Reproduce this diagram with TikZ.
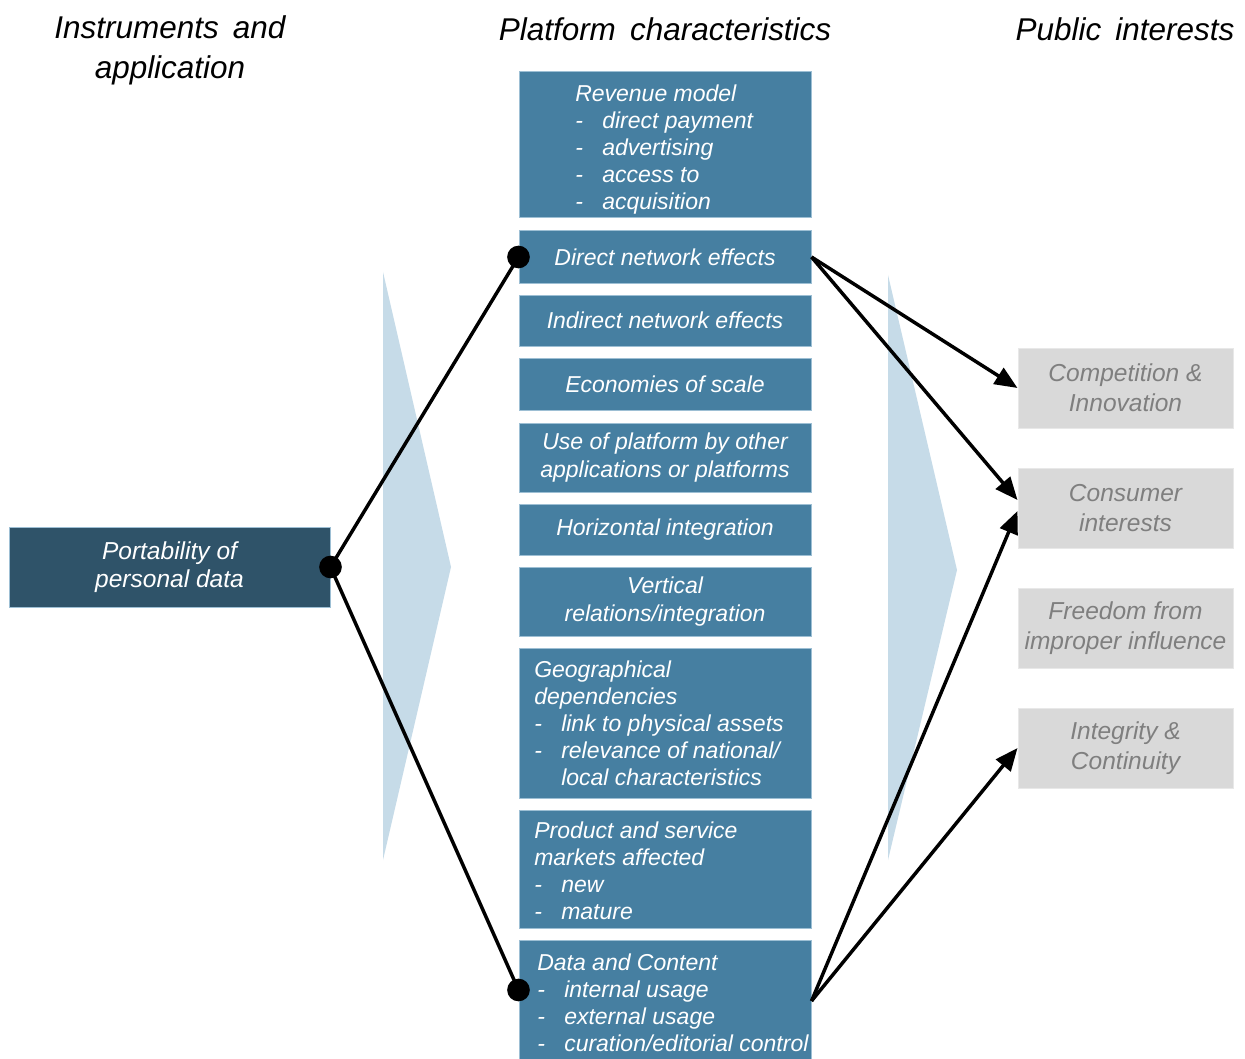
\documentclass[tikz,border=0pt]{standalone}
\usepackage{fontspec}
\setmainfont{Liberation Sans}
\usetikzlibrary{arrows.meta,calc}
\definecolor{midblue}{HTML}{467FA1}
\definecolor{midedge}{HTML}{9DBFD4}
\definecolor{darkblue}{HTML}{2F5369}
\definecolor{greybox}{HTML}{D9D9D9}
\definecolor{greyedge}{HTML}{E8E8E8}
\definecolor{greytext}{HTML}{7F7F7F}
\definecolor{chevcol}{HTML}{C6DBE8}
\newcommand{\dsh}{\makebox[20.25pt][l]{-}}
\newcommand{\ind}{\hspace*{20.25pt}}
\begin{document}
\begin{tikzpicture}[x=0.75pt,y=-0.75pt,
  hdr/.style={font=\fontsize{23.6}{30}\selectfont\itshape, align=center, inner sep=0},
  midbox/.style={fill=midblue, draw=midedge, line width=0.75pt, minimum width=219pt,
    inner sep=0, text=white, font=\fontsize{17.25}{20.6}\selectfont\itshape, align=center},
  midtxt/.style={text=white, font=\fontsize{17.25}{20.25}\selectfont\itshape,
    align=left, inner sep=0, anchor=west},
  pubbox/.style={fill=greybox, draw=greyedge, line width=0.75pt, minimum width=161.25pt,
    minimum height=60pt, inner sep=0, text=greytext,
    font=\fontsize{18.4}{22.5}\selectfont\itshape, align=center},
  instbox/.style={fill=darkblue, draw=midedge, line width=0.75pt, minimum width=240.75pt,
    minimum height=60pt, inner sep=0, text=white,
    font=\fontsize{18.4}{21}\selectfont\itshape, align=center},
  conn/.style={line width=2.6pt},
  arr/.style={line width=2.6pt, -{Triangle[length=17pt,width=14pt]}},
  dotnode/.style={circle, fill=black, minimum size=17pt, inner sep=0}]
\clip (0,0) rectangle (1245,1059);
\fill[white] (0,0) rectangle (1245,1059);

% headers
\node[hdr] (h1) at (170,50) {Instruments\hspace{0.45em}and\\application};
\node[hdr] (h2) at (665,29) {Platform\hspace{0.45em}characteristics};
\node[hdr] (h3) at (1125,29) {Public\hspace{0.45em}interests};

% chevrons
\fill[chevcol] (383,272) -- (451,567) -- (383,860) -- cycle;
\fill[chevcol] (888,275) -- (957,570) -- (888,860) -- cycle;

% middle column
\node[midbox, minimum height=109.5pt] (rev) at (665,145) {};
\node[midtxt] (revt) at (575,150) {Revenue model\\\dsh direct payment\\\dsh advertising\\\dsh access to\\\dsh acquisition};
\node[midbox, minimum height=39pt] (dne) at (665,257) {Direct network effects};
\node[midbox, minimum height=38.25pt] (ine) at (665,320.5) {Indirect network effects};
\node[midbox, minimum height=39pt] (eos) at (665,384) {Economies of scale};
\node[midbox, minimum height=51.75pt] (use) at (665,457.5) {Use of platform by other\\applications or platforms};
\node[midbox, minimum height=38.25pt] (hor) at (665,529.5) {Horizontal integration};
\node[midbox, minimum height=51.75pt] (ver) at (665,601.5) {Vertical\\relations/integration};
\node[midbox, minimum height=112.5pt] (geo) at (665,723) {};
\node[midtxt] (geot) at (534,723) {Geographical\\dependencies\\\dsh link to physical assets\\\dsh relevance of national/\\\ind local characteristics};
\node[midbox, minimum height=88.5pt] (prod) at (665,869) {};
\node[midtxt] (prodt) at (534,870.5) {Product and service\\markets affected\\\dsh new\\\dsh mature};
\node[midbox, minimum height=101.25pt] (data) at (665,1007.5) {};
\node[midtxt] (datat) at (537,1003) {Data and Content\\\dsh internal usage\\\dsh external usage\\\dsh curation/editorial control};

% left
\node[instbox] (port) at (169.5,567) {Portability of\\personal data};

% right
\node[pubbox] (comp) at (1125.5,388) {Competition \&\\Innovation};
\node[pubbox] (cons) at (1125.5,508) {Consumer\\interests};
\node[pubbox] (free) at (1125.5,628) {Freedom from\\improper influence};
\node[pubbox] (integ) at (1125.5,748) {Integrity \&\\Continuity};

% connection points
\coordinate (pL) at (port.east);
\coordinate (pD) at (dne.west);
\coordinate (pC) at ($(data.west)+(0,-17.5)$);
\coordinate (qD) at (dne.east);
\coordinate (qC) at ($(data.east)+(0,-6.5)$);

\draw[conn] (pL) -- (pD);
\draw[conn] (pL) -- (pC);

\draw[arr] (qD) -- (comp.west);
\draw[arr] (qD) -- ($(cons.west)+(0,-8)$);
\draw[arr] (qC) -- ($(cons.west)+(0,3)$);
\draw[arr] (qC) -- (integ.west);

\node[dotnode] (dL) at (pL) {};
\node[dotnode] (dD) at (pD) {};
\node[dotnode] (dC) at (pC) {};
\end{tikzpicture}
\end{document}
